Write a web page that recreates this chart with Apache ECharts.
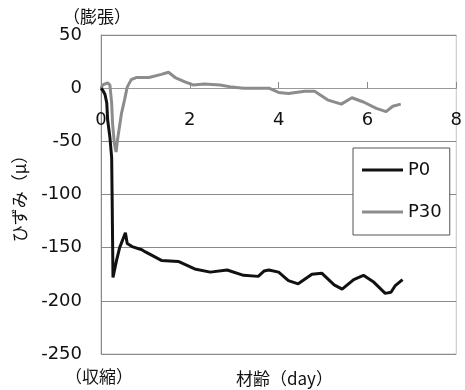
<!DOCTYPE html>
<html>
<head>
<meta charset="utf-8">
<script src="https://cdn.jsdelivr.net/npm/echarts@6/dist/echarts.min.js"></script>
<style>html,body{margin:0;padding:0;background:#fff;}#c{width:465px;height:390px;}</style>
</head>
<body>
<div id="c"></div>
<script>
const seriesNames = ['P0', 'P30'];
const xTicks = [0, 2, 4, 6, 8];
const yTicks = [50, 0, -50, -100, -150, -200, -250];
const p0 = [[0,0],[0.04,-2],[0.09,-6],[0.13,-14],[0.15,-30],[0.2,-46],[0.24,-65],[0.25,-100],[0.26,-140],[0.27,-178],[0.35,-162],[0.42,-150],[0.55,-136],[0.59,-146],[0.7,-149],[0.92,-152],[1.0,-154],[1.36,-162],[1.74,-163],[2.11,-170],[2.46,-173],[2.84,-171],[3.21,-176],[3.54,-177],[3.67,-172],[3.78,-171],[4.0,-173],[4.22,-181],[4.44,-184],[4.75,-175],[4.97,-174],[5.25,-185],[5.43,-189],[5.69,-180],[5.91,-176],[6.13,-182],[6.4,-193],[6.53,-192],[6.62,-186],[6.79,-180]];
const p30 = [[0,0],[0.04,3],[0.15,5],[0.2,3],[0.24,-14],[0.26,-33],[0.3,-52],[0.34,-60],[0.37,-49],[0.46,-24],[0.53,-11],[0.59,1],[0.68,8],[0.79,10],[1.08,10],[1.36,13],[1.52,15],[1.67,10],[1.89,6],[2.07,3],[2.33,4],[2.68,3],[2.95,1],[3.21,0],[3.49,0],[3.78,0],[4.0,-4],[4.22,-5],[4.59,-3],[4.81,-3],[5.1,-11],[5.41,-15],[5.65,-9],[5.91,-13],[6.2,-19],[6.42,-22],[6.57,-17],[6.75,-15]];

const chart = echarts.init(document.getElementById('c'));
const fontLat = '"DejaVu Sans", sans-serif';
const fontJp = '"Noto Sans CJK JP", sans-serif';
chart.setOption({
  animation: false,
  backgroundColor: '#fff',
  grid: { left: 101, right: 2, top: 35, bottom: 36, show: true, borderColor: '#c4c4c4', borderWidth: 1 },
  xAxis: {
    type: 'value', min: xTicks[0], max: xTicks[xTicks.length-1], interval: 2,
    offset: -266,
    axisLine: { onZero: false, lineStyle: { color: '#999', width: 1 } },
    axisTick: { show: true, inside: true, length: 6, lineStyle: { color: '#888' } },
    axisLabel: { margin: 23, color: '#111', fontSize: 18, fontFamily: fontLat, showMaxLabel: true },
    splitLine: { show: false }
  },
  yAxis: {
    type: 'value', min: yTicks[yTicks.length-1], max: yTicks[0], interval: 50,
    name: 'ひずみ（μ）', nameLocation: 'middle', nameRotate: 90, nameGap: 73,
    nameTextStyle: { fontSize: 17, color: '#111', fontFamily: fontJp },
    axisLine: { show: true, onZero: false, lineStyle: { color: '#888', width: 1 } },
    axisTick: { show: false },
    axisLabel: { margin: 19, color: '#111', fontSize: 18, fontFamily: fontLat },
    splitLine: { show: true, lineStyle: { color: '#8a8a8a', width: 1 } }
  },
  legend: {
    data: seriesNames, orient: 'vertical', left: 353, top: 148,
    icon: 'rect', itemWidth: 41, itemHeight: 3, itemGap: 24,
    padding: [13, 8, 14, 9],
    borderColor: '#555', borderWidth: 1, backgroundColor: '#fff',
    textStyle: { fontSize: 18, color: '#111', fontFamily: fontLat }
  },
  graphic: [
    { type: 'text', left: 63, top: 8, style: { text: '（膨張）', fontSize: 17, fill: '#111', fontFamily: fontJp } },
    { type: 'text', left: 65, top: 368, style: { text: '（収縮）', fontSize: 17, fill: '#111', fontFamily: fontJp } },
    { type: 'text', left: 236, top: 370, style: { text: '材齢（day）', fontSize: 17, fill: '#111', fontFamily: fontJp } }
  ],
  series: [
    { name: seriesNames[0], type: 'line', data: p0, showSymbol: false, smooth: false,
      lineStyle: { color: '#111', width: 3 }, itemStyle: { color: '#111' }, z: 3 },
    { name: seriesNames[1], type: 'line', data: p30, showSymbol: false, smooth: false,
      lineStyle: { color: '#8c8c8c', width: 3 }, itemStyle: { color: '#8c8c8c' }, z: 2 }
  ]
});
</script>
</body>
</html>
